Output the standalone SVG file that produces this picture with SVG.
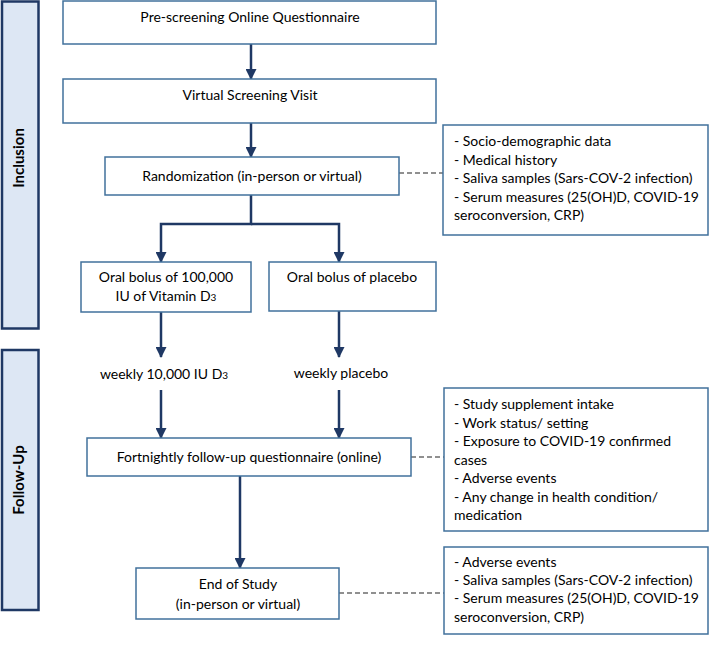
<svg xmlns="http://www.w3.org/2000/svg" width="710" height="646" viewBox="0 0 710 646">
<style>
.box{fill:#fff;stroke:#41719c;stroke-width:1.5}
.side{fill:#dde7f4;stroke:#1f3864;stroke-width:2.5}
.t{font-family:Lato,"Liberation Sans",sans-serif;font-size:14px;fill:#000}
.c{text-anchor:middle}
.b{font-weight:bold;font-size:15px}
.arr{fill:none;stroke:#1f3864;stroke-width:2.5}
.dash{fill:none;stroke:#222;stroke-width:1.2;stroke-dasharray:5,3}
</style>
<defs>
<marker id="a" markerWidth="11" markerHeight="11" refX="10" refY="5.5" orient="auto" markerUnits="userSpaceOnUse">
<path d="M0,0 L11,5.5 L0,11 Z" fill="#1f3864"/>
</marker>
</defs>

<g id="side-inclusion">
<rect class="side" x="2" y="1.5" width="36.5" height="327"/>
<text class="t b c" transform="translate(24,158) rotate(-90)">Inclusion</text>
</g>
<g id="side-followup">
<rect class="side" x="2" y="350" width="36.5" height="260"/>
<text class="t b c" transform="translate(24,480) rotate(-90)">Follow-Up</text>
</g>

<g id="connectors">
<line class="arr" x1="251" y1="44" x2="251" y2="79" marker-end="url(#a)"/>
<line class="arr" x1="251" y1="123" x2="251" y2="157" marker-end="url(#a)"/>
<path class="arr" d="M251,195 V224 H161 V262" marker-end="url(#a)"/>
<path class="arr" d="M251,224 H339 V262" marker-end="url(#a)"/>
<line class="arr" x1="161" y1="312" x2="161" y2="357" marker-end="url(#a)"/>
<line class="arr" x1="339" y1="311" x2="339" y2="357" marker-end="url(#a)"/>
<line class="arr" x1="161" y1="390" x2="161" y2="438" marker-end="url(#a)"/>
<line class="arr" x1="339" y1="390" x2="339" y2="438" marker-end="url(#a)"/>
<line class="arr" x1="240" y1="476" x2="240" y2="568" marker-end="url(#a)"/>
<line class="dash" x1="399" y1="173" x2="443" y2="173"/>
<line class="dash" x1="411" y1="457" x2="444" y2="457"/>
<line class="dash" x1="339" y1="593" x2="444" y2="593"/>
</g>

<g id="prescreening">
<rect class="box" x="63" y="1" width="373" height="43"/>
<text class="t c" x="250" y="22">Pre-screening Online Questionnaire</text>
</g>
<g id="virtual-screening">
<rect class="box" x="63" y="79" width="373" height="44"/>
<text class="t c" x="250" y="100">Virtual Screening Visit</text>
</g>
<g id="randomization">
<rect class="box" x="105" y="157" width="294" height="38"/>
<text class="t c" x="252" y="181">Randomization (in-person or virtual)</text>
</g>
<g id="inclusion-info">
<rect class="box" x="443" y="125" width="265" height="110"/>
<text class="t" x="454" y="146">- Socio-demographic data</text>
<text class="t" x="454" y="165">- Medical history</text>
<text class="t" x="454" y="183">- Saliva samples (Sars-COV-2 infection)</text>
<text class="t" x="454" y="202">- Serum measures (25(OH)D, COVID-19</text>
<text class="t" x="454" y="220">seroconversion, CRP)</text>
</g>
<g id="vitd-bolus">
<rect class="box" x="81" y="262" width="170" height="50"/>
<text class="t c" x="166" y="282">Oral bolus of 100,000</text>
<text class="t c" x="166" y="301">IU of Vitamin D<tspan font-size="10">3</tspan></text>
</g>
<g id="placebo-bolus">
<rect class="box" x="269" y="262" width="167" height="49"/>
<text class="t c" x="352" y="282">Oral bolus of placebo</text>
</g>
<g id="weekly-vitd">
<text class="t c" x="164" y="379">weekly 10,000 IU D<tspan font-size="10">3</tspan></text>
</g>
<g id="weekly-placebo">
<text class="t c" x="341" y="378">weekly placebo</text>
</g>
<g id="fortnightly">
<rect class="box" x="87" y="438" width="324" height="38"/>
<text class="t c" x="249" y="462">Fortnightly follow-up questionnaire (online)</text>
</g>
<g id="followup-info">
<rect class="box" x="444" y="388" width="264" height="143"/>
<text class="t" x="454" y="409">- Study supplement intake</text>
<text class="t" x="454" y="428">- Work status/ setting</text>
<text class="t" x="454" y="446">- Exposure to COVID-19 confirmed</text>
<text class="t" x="454" y="465">cases</text>
<text class="t" x="454" y="483">- Adverse events</text>
<text class="t" x="454" y="502">- Any change in health condition/</text>
<text class="t" x="454" y="520">medication</text>
</g>
<g id="end-of-study">
<rect class="box" x="136" y="568" width="203" height="51"/>
<text class="t c" x="238" y="589">End of Study</text>
<text class="t c" x="238" y="609">(in-person or virtual)</text>
</g>
<g id="end-info">
<rect class="box" x="444" y="547" width="264" height="87"/>
<text class="t" x="454" y="567">- Adverse events</text>
<text class="t" x="454" y="585">- Saliva samples (Sars-COV-2 infection)</text>
<text class="t" x="454" y="603">- Serum measures (25(OH)D, COVID-19</text>
<text class="t" x="454" y="622">seroconversion, CRP)</text>
</g>
</svg>
